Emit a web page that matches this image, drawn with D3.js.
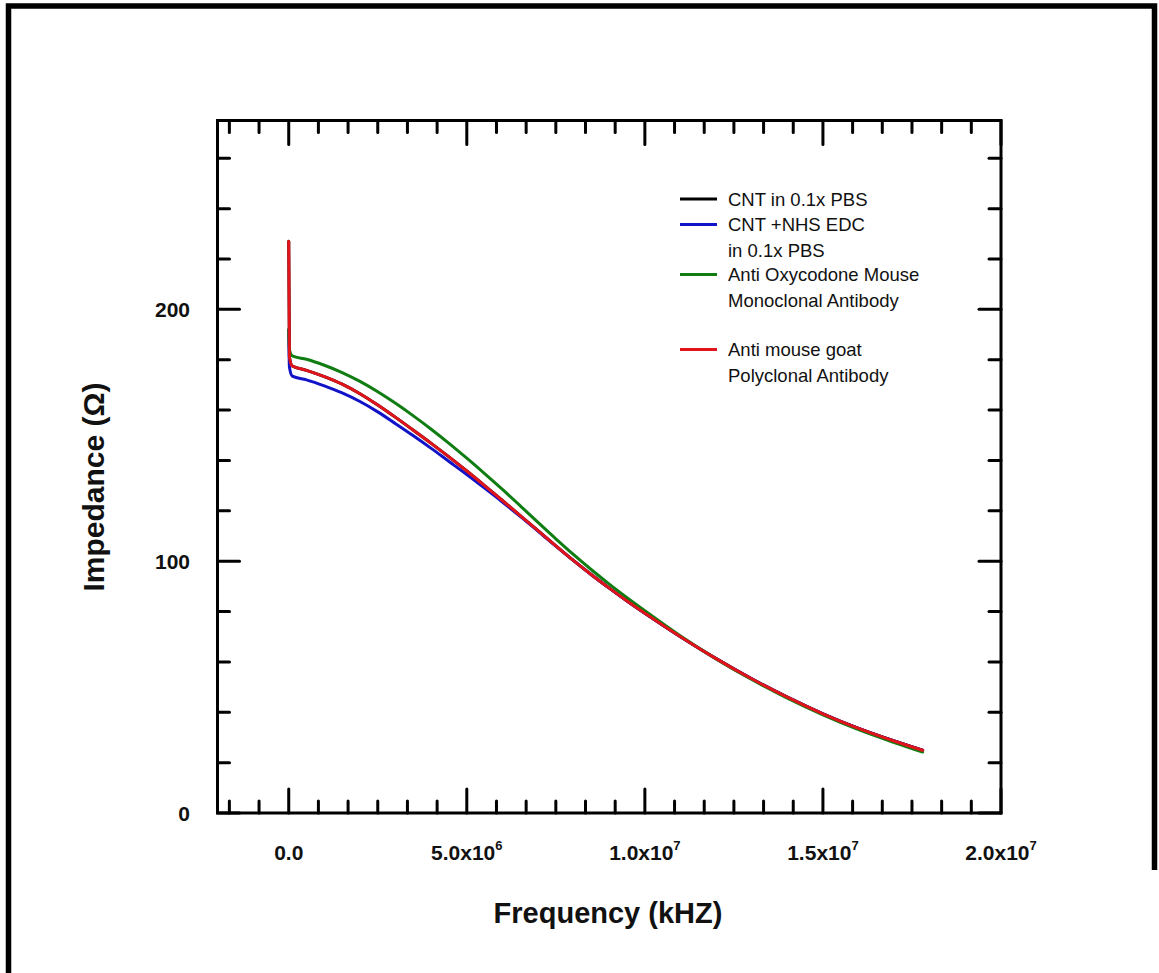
<!DOCTYPE html>
<html>
<head>
<meta charset="utf-8">
<script src="https://cdn.jsdelivr.net/npm/d3@7"></script>
<style>
  html, body { margin: 0; padding: 0; background: #fff; }
  svg { display: block; }
  text { font-family: "Liberation Sans", Arial, Helvetica, sans-serif; fill: #111; }
</style>
</head>
<body>
<svg id="chart" width="1159" height="973"></svg>
<script>
// Frequency sweep (kHz) shared by all four measurements
const freq = [0, 2e4, 1e5, 5e5, 1e6, 1.5e6, 2e6, 2.5e6, 3e6, 3.5e6, 4e6, 4.5e6, 5e6, 5.5e6,
  6e6, 6.5e6, 7e6, 7.5e6, 8e6, 8.5e6, 9e6, 9.5e6, 1e7, 1.1e7, 1.2e7, 1.3e7, 1.4e7,
  1.5e7, 1.6e7, 1.7e7, 1.78e7];

// Impedance (ohm) for each surface stage
const cntPbs = [227, 181, 177.5, 175.8, 173.3, 170.3, 166.5, 162.0, 157.1, 152.0, 146.8, 141.4,
  135.8, 130.0, 124.1, 118.1, 112.1, 106.1, 100.2, 94.6, 89.3, 84.2, 79.3, 70.0, 61.3, 53.3,
  46.0, 39.4, 33.6, 28.6, 24.9];
const cntNhsEdc = [192, 177, 173.5, 172.0, 169.6, 166.8, 163.4, 159.3, 154.6, 149.8, 144.8, 139.6,
  134.4, 129.0, 123.5, 117.8, 111.9, 106.0, 100.2, 94.6, 89.3, 84.2, 79.3, 70.0, 61.3, 53.3,
  46.0, 39.4, 33.6, 28.6, 24.9];
const antiOxy = [192, 184, 181.5, 180.2, 177.8, 174.9, 171.4, 167.3, 162.7, 157.7, 152.4, 146.8,
  140.9, 134.8, 128.5, 122.0, 115.4, 108.9, 102.6, 96.6, 90.9, 85.5, 80.3, 70.3, 61.2, 53.0,
  45.6, 39.0, 33.1, 28.0, 24.2];
const antiGoat = [227, 181, 177.5, 175.8, 173.3, 170.3, 166.5, 162.0, 157.1, 152.0, 146.8, 141.4,
  135.8, 130.0, 124.1, 118.1, 112.1, 106.1, 100.2, 94.6, 89.3, 84.2, 79.3, 70.0, 61.3, 53.3,
  46.0, 39.4, 33.6, 28.6, 24.9];

// Legend entries: label lines per series
const seriesNames = [
  ["CNT in 0.1x PBS"],
  ["CNT +NHS EDC", "in 0.1x PBS"],
  ["Anti Oxycodone Mouse", "Monoclonal Antibody"],
  ["Anti mouse goat", "Polyclonal Antibody"]
];
const seriesColors = ["#000000", "#1212c8", "#0f7d12", "#e0141a"];
const seriesValues = [cntPbs, cntNhsEdc, antiOxy, antiGoat];

// Axis ticks
const xMajor = [0, 5e6, 1e7, 1.5e7, 2e7];
const xMantissa = ["0.0", "5.0x10", "1.0x10", "1.5x10", "2.0x10"];
const xExponent = ["", "6", "7", "7", "7"];
const yMajor = [0, 100, 200];
const yMinor = [20, 40, 60, 80, 120, 140, 160, 180, 220, 240, 260];

const svg = d3.select("#chart");
const W = 1159, H = 973;
const plot = { left: 217.5, top: 120.5, right: 1001, bottom: 813 };

svg.append("rect").attr("width", W).attr("height", H).attr("fill", "#fff");

// Outer frame
svg.append("path")
  .attr("d", `M8.5,${H} V6 H1154.5 V870`)
  .attr("fill", "none").attr("stroke", "#000").attr("stroke-width", 5.5);

const x = d3.scaleLinear().domain([-2e6, 2e7]).range([plot.left, plot.right]);
const y = d3.scaleLinear().domain([0, 275]).range([plot.bottom, plot.top]);

const axisColor = "#000";
const step = 5e6 / 6;
const xMinor = d3.range(-2, 25).map(i => i * step)
  .filter(v => v > x.domain()[0] && v < x.domain()[1] && Math.abs(v / 5e6 - Math.round(v / 5e6)) > 1e-9);

const g = svg.append("g");

// Ticks, drawn inward on all four sides
function vTick(v, len) {
  const px = x(v);
  g.append("line").attr("x1", px).attr("x2", px).attr("y1", plot.bottom).attr("y2", plot.bottom - len);
  g.append("line").attr("x1", px).attr("x2", px).attr("y1", plot.top).attr("y2", plot.top + len);
}
function hTick(v, len) {
  const py = y(v);
  g.append("line").attr("y1", py).attr("y2", py).attr("x1", plot.left).attr("x2", plot.left + len);
  g.append("line").attr("y1", py).attr("y2", py).attr("x1", plot.right).attr("x2", plot.right - len);
}
xMinor.forEach(v => vTick(v, 12));
xMajor.forEach(v => vTick(v, 24));
yMinor.forEach(v => hTick(v, 12));
yMajor.forEach(v => hTick(v, 22));
g.selectAll("line").attr("stroke", axisColor).attr("stroke-width", 3).attr("stroke-linecap", "round");

// Data curves
const line = d3.line().x(d => x(d[0])).y(d => y(d[1])).curve(d3.curveMonotoneX);
seriesValues.forEach((vals, i) => {
  svg.append("path")
    .datum(freq.map((f, k) => [f, vals[k]]))
    .attr("d", line)
    .attr("fill", "none")
    .attr("stroke", seriesColors[i])
    .attr("stroke-width", 3)
    .attr("stroke-linejoin", "round")
    .attr("stroke-linecap", "round");
});

// Plot frame
svg.append("rect")
  .attr("x", plot.left).attr("y", plot.top)
  .attr("width", plot.right - plot.left).attr("height", plot.bottom - plot.top)
  .attr("fill", "none").attr("stroke", axisColor).attr("stroke-width", 3);

// X tick labels
xMajor.forEach((v, i) => {
  const t = svg.append("text")
    .attr("x", x(v)).attr("y", 860)
    .attr("text-anchor", "middle")
    .attr("font-size", 21).attr("font-weight", "bold");
  t.append("tspan").text(xMantissa[i]);
  if (xExponent[i]) {
    t.append("tspan").attr("dy", -10).attr("font-size", 13).text(xExponent[i]);
  }
});

// Y tick labels
yMajor.forEach(v => {
  svg.append("text")
    .attr("x", 190).attr("y", y(v) + 7.5)
    .attr("text-anchor", "end")
    .attr("font-size", 21).attr("font-weight", "bold")
    .text(v);
});

// Axis titles
svg.append("text")
  .attr("x", 608).attr("y", 923)
  .attr("text-anchor", "middle")
  .attr("font-size", 29).attr("font-weight", "bold")
  .text("Frequency (kHZ)");

svg.append("text")
  .attr("transform", "translate(104,487) rotate(-90)")
  .attr("text-anchor", "middle")
  .attr("font-size", 30).attr("font-weight", "bold")
  .text("Impedance (\u03A9)");

// Legend
const legendRows = [199, 224.5, 274.5, 349.5];
seriesNames.forEach((lines, i) => {
  const ly = legendRows[i];
  svg.append("line")
    .attr("x1", 680).attr("x2", 717).attr("y1", ly).attr("y2", ly)
    .attr("stroke", seriesColors[i]).attr("stroke-width", 3);
  lines.forEach((s, j) => {
    svg.append("text")
      .attr("x", 728).attr("y", ly + 6.5 + j * 25.5)
      .attr("font-size", 18.5)
      .text(s);
  });
});
</script>
</body>
</html>
